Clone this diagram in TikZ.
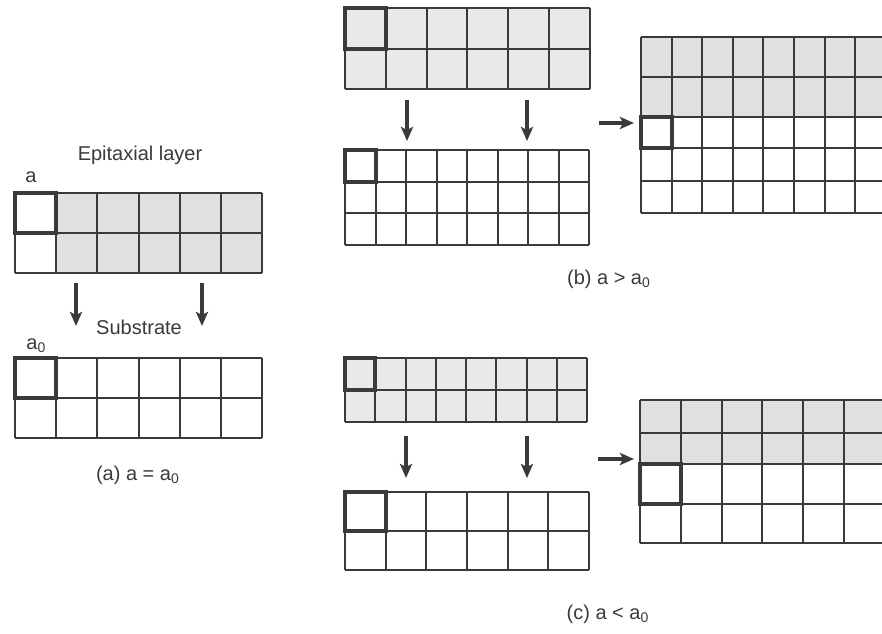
\documentclass[tikz,border=0pt]{standalone}
\usepackage{fontspec}
\setmainfont{Liberation Sans}
\usetikzlibrary{arrows.meta,positioning}
\definecolor{linegray}{RGB}{58,58,58}
\definecolor{epifill}{RGB}{224,224,224}

\begin{document}
\begin{tikzpicture}[x=0.5pt, y=-0.5pt,
    cell/.style={draw=linegray, line width=1pt},
    hcell/.style={draw=linegray, line width=2pt},
    arrow/.style={-{Stealth[length=7pt,width=6pt,inset=1.5pt]}, line width=1.8pt, draw=linegray},
    lbl/.style={font=\fontsize{10}{12}\selectfont, text=linegray, inner sep=0pt}
]
\useasboundingbox (0,0) rectangle (882,633);

% (a) a = a0 : epitaxial layer
\fill[epifill] (56.17,193) rectangle (262,273);
\foreach \i in {0,...,6} \draw[cell] (15+41.17*\i,193) -- (15+41.17*\i,273);
\foreach \j in {0,1,2} \draw[cell] (15,193+40*\j) -- (262,193+40*\j);
\draw[hcell] (15,193) rectangle (56.17,233);

% (a) substrate
\foreach \i in {0,...,6} \draw[cell] (15+41.17*\i,358) -- (15+41.17*\i,438);
\foreach \j in {0,1,2} \draw[cell] (15,358+40*\j) -- (262,358+40*\j);
\draw[hcell] (15,358) rectangle (56.17,398);

\node[lbl] (epi) at (140,155) {Epitaxial layer};
\node[lbl] (alat) at (31,177) {a};
\node[lbl] (sub) at (139,327) {Substrate};
\node[lbl, anchor=base west] (a0lat) at (26,349) {a\textsubscript{0}};
\node[lbl] (capa) at (138,475) {(a) a = a\textsubscript{0}};

\coordinate (aL1) at (76,283);  \coordinate (aL2) at (76,326);
\coordinate (aR1) at (202,283); \coordinate (aR2) at (202,326);
\draw[arrow] (aL1) -- (aL2);
\draw[arrow] (aR1) -- (aR2);

% (b) a > a0 : epitaxial layer
\fill[epifill!70!white] (345,8) rectangle (590,89);
\foreach \i in {0,...,6} \draw[cell] (345+40.83*\i,8) -- (345+40.83*\i,89);
\foreach \j in {0,1,2} \draw[cell] (345,8+40.5*\j) -- (590,8+40.5*\j);
\draw[hcell] (345,8) rectangle (385.83,48.5);

% (b) substrate
\foreach \i in {0,...,8} \draw[cell] (345+30.5*\i,150) -- (345+30.5*\i,245);
\foreach \j in {0,...,3} \draw[cell] (345,150+31.67*\j) -- (589,150+31.67*\j);
\draw[hcell] (345,150) rectangle (375.5,181.67);

\coordinate (bL1) at (407,100); \coordinate (bL2) at (407,141);
\coordinate (bR1) at (527,100); \coordinate (bR2) at (527,141);
\draw[arrow] (bL1) -- (bL2);
\draw[arrow] (bR1) -- (bR2);

% (b) strained layer on substrate
\begin{scope}
\clip (0,0) rectangle (882,633);
\fill[epifill] (641,37) rectangle (930,117);
\foreach \i in {0,...,9} \draw[cell] (641+30.6*\i,37) -- (641+30.6*\i,213);
\foreach \y in {37,77,117,148,181,213} \draw[cell] (641,\y) -- (930,\y);
\draw[hcell] (641,117) rectangle (671.6,148);
\end{scope}

\coordinate (bH1) at (599,123); \coordinate (bH2) at (634,123);
\draw[arrow] (bH1) -- (bH2);
\node[lbl] (capb) at (609,279) {(b) a > a\textsubscript{0}};

% (c) a < a0 : epitaxial layer
\fill[epifill!70!white] (345,358) rectangle (587,422);
\foreach \i in {0,...,8} \draw[cell] (345+30.25*\i,358) -- (345+30.25*\i,422);
\foreach \j in {0,1,2} \draw[cell] (345,358+32*\j) -- (587,358+32*\j);
\draw[hcell] (345,358) rectangle (375.25,390);

% (c) substrate
\foreach \i in {0,...,6} \draw[cell] (345+40.67*\i,492) -- (345+40.67*\i,570);
\foreach \j in {0,1,2} \draw[cell] (345,492+39*\j) -- (589,492+39*\j);
\draw[hcell] (345,492) rectangle (385.67,531);

\coordinate (cL1) at (406,436); \coordinate (cL2) at (406,478);
\coordinate (cR1) at (527,436); \coordinate (cR2) at (527,478);
\draw[arrow] (cL1) -- (cL2);
\draw[arrow] (cR1) -- (cR2);

% (c) strained layer on substrate
\begin{scope}
\clip (0,0) rectangle (882,633);
\fill[epifill] (640,400) rectangle (930,464);
\foreach \i in {0,...,7} \draw[cell] (640+40.8*\i,400) -- (640+40.8*\i,543);
\foreach \y in {400,433,464,504,543} \draw[cell] (640,\y) -- (930,\y);
\draw[hcell] (640,464) rectangle (680.8,504);
\end{scope}

\coordinate (cH1) at (598,459); \coordinate (cH2) at (634,459);
\draw[arrow] (cH1) -- (cH2);
\node[lbl] (capc) at (608,614) {(c) a < a\textsubscript{0}};
\end{tikzpicture}
\end{document}
